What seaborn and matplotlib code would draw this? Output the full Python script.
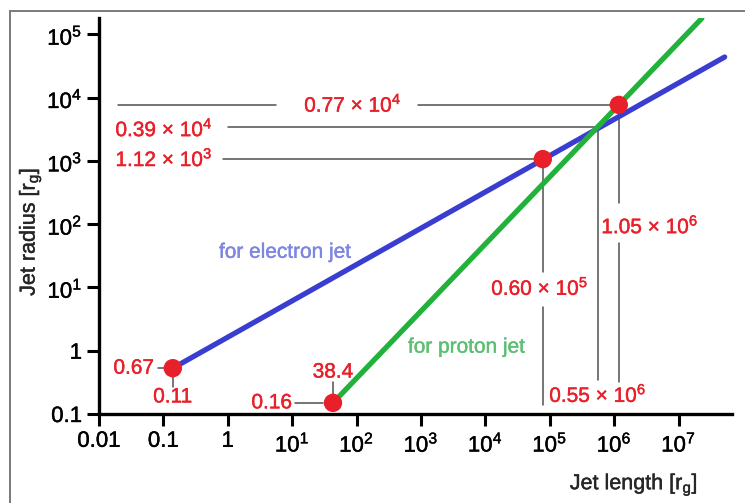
import matplotlib
matplotlib.use("Agg")
import matplotlib.pyplot as plt
import matplotlib.patheffects as pe
import seaborn as sns
from matplotlib.patches import Rectangle

# jet lines, end points (log-log power laws)
electron_len = [0.14, 5.2e7]
electron_rad = [0.53, 4.4e4]
proton_len = [43, 2.3e7]
proton_rad = [0.15, 1.8e5]

# marked points: electron start, electron mid, proton top, proton start
point_len = [0.14, 7.8e4, 1.18e6, 43]
point_rad = [0.53, 1.07e3, 7.7e3, 0.15]

# crossing of the two lines
cross_len = 5.6e5
cross_rad = 3.4e3

x_ticks = [0.01, 0.1, 1, 1e1, 1e2, 1e3, 1e4, 1e5, 1e6, 1e7]
x_labels = ["0.01", "0.1", "1", "10$^{1}$", "10$^{2}$", "10$^{3}$",
            "10$^{4}$", "10$^{5}$", "10$^{6}$", "10$^{7}$"]
y_ticks = [0.1, 1, 1e1, 1e2, 1e3, 1e4, 1e5]
y_labels = ["0.1", "1", "10$^{1}$", "10$^{2}$", "10$^{3}$", "10$^{4}$", "10$^{5}$"]

sns.set_style("ticks")
plt.rcParams["font.family"] = ["Liberation Sans", "DejaVu Sans"]
plt.rcParams["mathtext.fontset"] = "custom"
plt.rcParams["mathtext.rm"] = "Liberation Sans"
plt.rcParams["mathtext.it"] = "Liberation Sans:italic"
plt.rcParams["mathtext.bf"] = "Liberation Sans:bold"

RED = "#e8202a"
BLUE = "#3a3ed0"
GREEN = "#22b23c"
GUIDE = "#505050"
FS = 15

fig = plt.figure(figsize=(7.45, 5.03), dpi=100)
ax = fig.add_axes([99 / 745, 1 - 414 / 503, 633 / 745, 396 / 503])
ax.set_xscale("log")
ax.set_yscale("log")
ax.set_xlim(0.01, 10 ** 7.83)
ax.set_ylim(0.1, 10 ** 5.26)

# frame around the picture
fig.patches.append(Rectangle((10 / 745, -0.2), 2, 1.2 - 11 / 503, transform=fig.transFigure,
                             fill=False, edgecolor="#7a7a7a", lw=1.4))

# guide lines
g = dict(color=GUIDE, lw=1.1, zorder=1)
top_x, top_y = point_len[2], point_rad[2]
mid_x, mid_y = point_len[1], point_rad[1]
ax.plot([0.02, 5.6], [top_y, top_y], **g)
ax.plot([900, top_x], [top_y, top_y], **g)
ax.plot([1.0, cross_len], [cross_rad, cross_rad], **g)
ax.plot([0.84, mid_x], [mid_y, mid_y], **g)
ax.plot([mid_x, mid_x], [mid_y, 17.5], **g)
ax.plot([mid_x, mid_x], [4.9, 0.139], **g)
ax.plot([cross_len, cross_len], [cross_rad, 0.344], **g)
ax.plot([top_x, top_x], [top_y, 215], **g)
ax.plot([top_x, top_x], [50, 0.32], **g)
ax.plot([0.082, point_len[0]], [point_rad[0]] * 2, **g)
ax.plot([point_len[0]] * 2, [point_rad[0], 0.267], **g)
ax.plot([11, 30], [point_rad[3]] * 2, **g)
ax.plot([point_len[3]] * 2, [point_rad[3], 0.32], **g)

sns.lineplot(x=electron_len, y=electron_rad, color=BLUE, lw=3.8, ax=ax,
             solid_capstyle="round", zorder=3)
sns.lineplot(x=proton_len, y=proton_rad, color=GREEN, lw=3.8, ax=ax,
             solid_capstyle="round", zorder=3)
sns.scatterplot(x=point_len, y=point_rad, s=175, color=RED, edgecolor="none",
                ax=ax, zorder=5)

# value labels
t = dict(color=RED, fontsize=FS, va="center")
ax.text(88, top_y, "0.77 × 10$^{4}$", ha="center", **t)
ax.text(0.018, cross_rad * 0.93, "0.39 × 10$^{4}$", ha="left", **t)
ax.text(0.018, mid_y, "1.12 × 10$^{3}$", ha="left", **t)
ax.text(mid_x * 0.9, 9.8, "0.60 × 10$^{5}$", ha="center", **t)
ax.text(cross_len, 0.2, "0.55 × 10$^{6}$", ha="center", **t)
ax.text(3.6e6, 93, "1.05 × 10$^{6}$", ha="center", **t)
ax.text(0.072, point_rad[0], "0.67", ha="right", **t)
ax.text(point_len[0], 0.186, "0.11", ha="center", **t)
ax.text(10, point_rad[3], "0.16", ha="right", **t)
ax.text(point_len[3], 0.46, "38.4", ha="center", **t)

ax.text(0.73, 36, "for electron jet", color="#7e86e0", fontsize=FS, va="center")
ax.text(628, 1.14, "for proton jet", color="#5cc073", fontsize=FS, va="center")

ax.set_xticks(x_ticks)
ax.set_xticklabels(x_labels)
ax.set_yticks(y_ticks)
ax.set_yticklabels(y_labels)
ax.minorticks_off()
ax.tick_params(axis="both", direction="out", length=8.6, width=2.2, color="black",
               labelsize=16, pad=3.5, labelcolor="black")

sns.despine(ax=ax)
for s in ["left", "bottom"]:
    ax.spines[s].set_linewidth(2.4)
    ax.spines[s].set_color("black")

ax.set_xlabel(r"Jet length [r$_{\mathrm{g}}$]", fontsize=FS + 0.5, ha="right", va="top")
ax.xaxis.set_label_coords(0.946, -0.146)
ax.set_ylabel(r"Jet radius [r$_{\mathrm{g}}$]", fontsize=FS + 0.5)
ax.yaxis.set_label_coords(-0.088, 0.46)

# the original lettering is a little heavier
for txt in (ax.texts + ax.get_xticklabels() + ax.get_yticklabels()
            + [ax.xaxis.label, ax.yaxis.label]):
    txt.set_path_effects([pe.withStroke(linewidth=0.3, foreground=txt.get_color())])

fig.savefig("out.png", dpi=100)
